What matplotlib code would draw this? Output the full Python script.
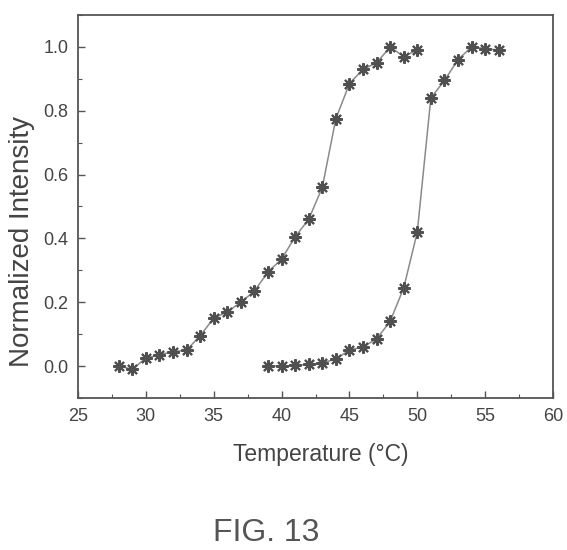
import matplotlib
matplotlib.use("Agg")
import matplotlib.pyplot as plt
from matplotlib.ticker import MultipleLocator

plt.rcParams['font.family'] = ['Liberation Sans', 'DejaVu Sans']

# Series 1 (lower transition)
temp1 = [28, 29, 30, 31, 32, 33, 34, 35, 36, 37, 38, 39, 40, 41, 42, 43, 44,
         45, 46, 47, 48, 49, 50]
inten1 = [0.0, -0.01, 0.025, 0.035, 0.045, 0.05, 0.095, 0.15, 0.17, 0.20,
          0.235, 0.295, 0.335, 0.405, 0.46, 0.56, 0.775, 0.885, 0.93, 0.95,
          1.0, 0.97, 0.99]

# Series 2 (higher transition)
temp2 = [39, 40, 41, 42, 43, 44, 45, 46, 47, 48, 49, 50, 51, 52, 53, 54, 55, 56]
inten2 = [0.0, 0.0, 0.002, 0.005, 0.01, 0.022, 0.05, 0.06, 0.085, 0.14,
          0.245, 0.42, 0.84, 0.895, 0.96, 1.0, 0.995, 0.99]

xticks = [25, 30, 35, 40, 45, 50, 55, 60]
yticks = [0.0, 0.2, 0.4, 0.6, 0.8, 1.0]

fig = plt.figure(figsize=(5.67, 5.5), dpi=100)
ax = fig.add_axes([0.1376, 0.2764, 0.8377, 0.6963])

for t, v in [(temp1, inten1), (temp2, inten2)]:
    ax.plot(t, v, color='#8a8a8a', lw=1.1, zorder=2)
    ax.plot(t, v, ls='none', marker='o', ms=4.5, color='#505050', zorder=3)
    ax.plot(t, v, ls='none', marker=(8, 2, 0), ms=9, mew=1.5,
            color='#505050', zorder=4)

ax.set_xlim(25, 60)
ax.set_ylim(-0.1, 1.1)
ax.set_xticks(xticks)
ax.set_xticklabels([str(x) for x in xticks])
ax.set_yticks(yticks)
ax.set_yticklabels([f"{y:.1f}" for y in yticks])
ax.xaxis.set_minor_locator(MultipleLocator(2.5))
ax.yaxis.set_minor_locator(MultipleLocator(0.1))
ax.tick_params(which='both', direction='in', top=False, right=False,
               colors='#555555', labelcolor='#444444')
ax.tick_params(which='major', length=5, width=1, labelsize=13, pad=7)
ax.tick_params(which='minor', length=3, width=0.8)
for s in ax.spines.values():
    s.set_color('#555555')
    s.set_linewidth(1.3)

fig.text(0.565, 0.173, 'Temperature (°C)', ha='center', va='center',
         fontsize=16.5, color='#444444')
fig.text(0.039, 0.56, 'Normalized Intensity', ha='center', va='center',
         rotation=90, fontsize=20, color='#444444')
fig.text(0.469, 0.031, 'FIG. 13', ha='center', va='center',
         fontsize=23, color='#555555')

fig.savefig('out.png', dpi=100)
